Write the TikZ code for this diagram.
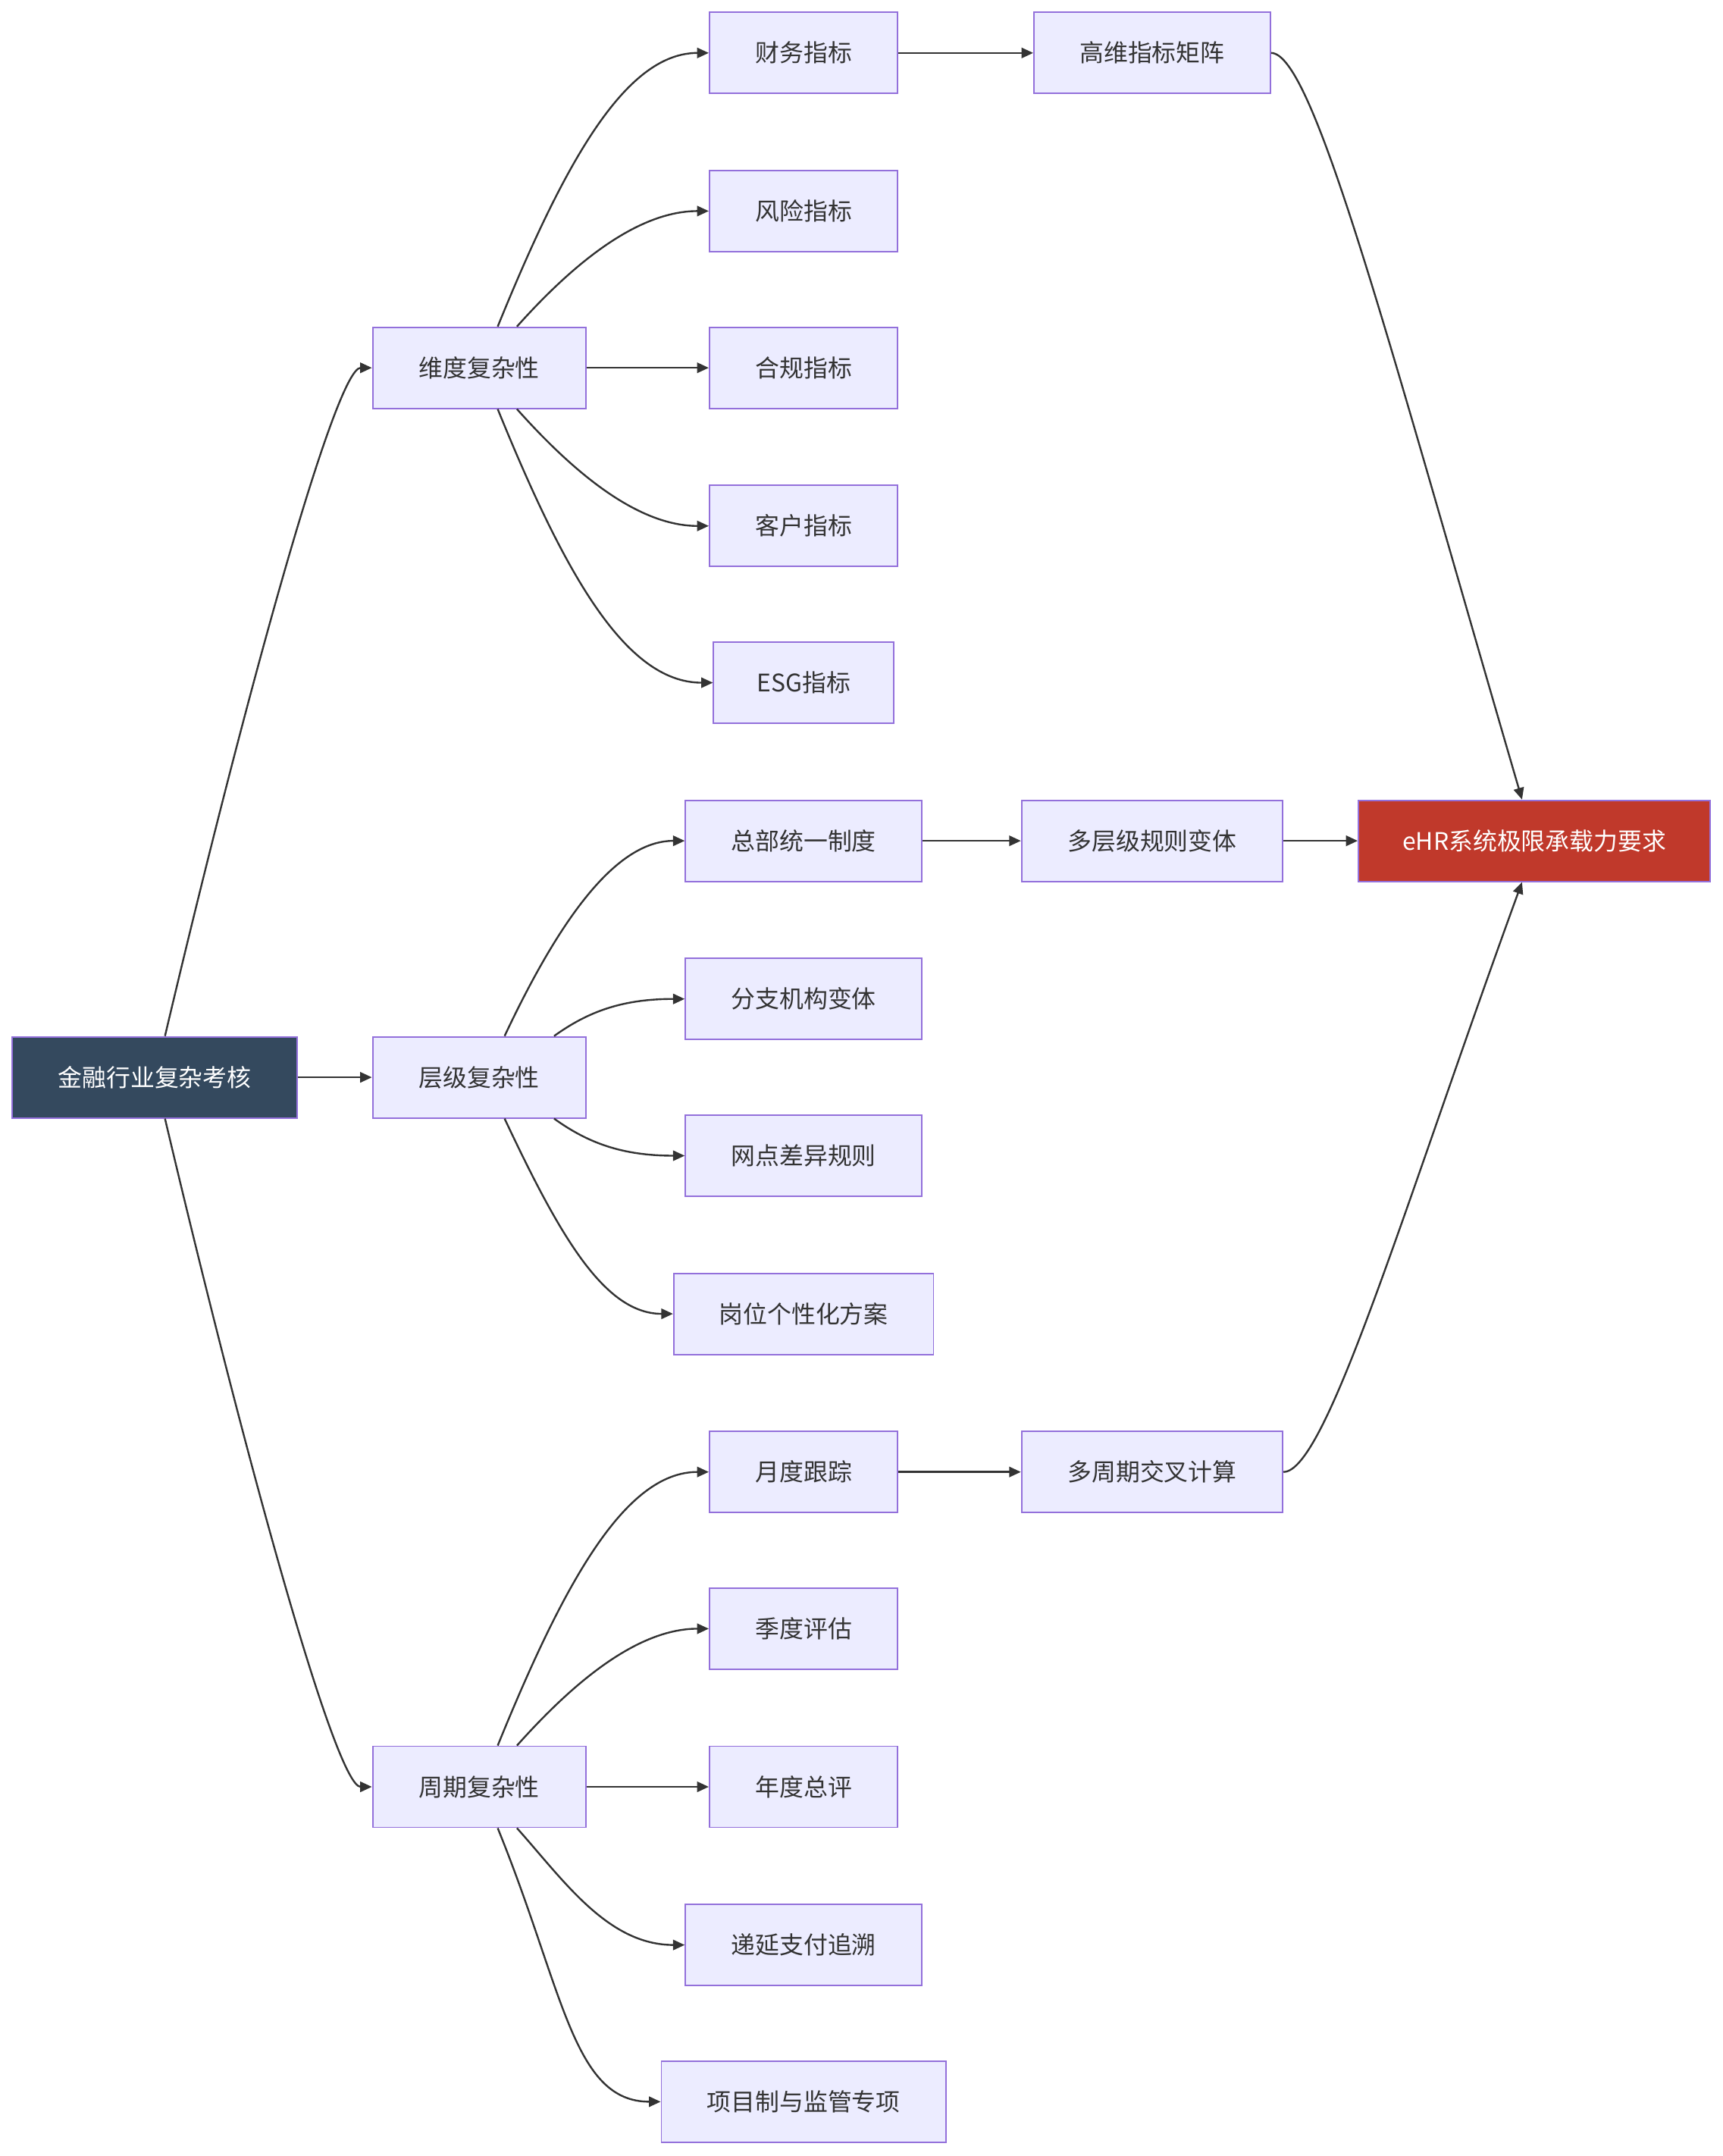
\documentclass[tikz,border=0pt]{standalone}
\usepackage{fontspec}
\setmainfont{Noto Sans CJK SC}
\usetikzlibrary{arrows.meta}
\definecolor{boxfill}{HTML}{ECECFF}
\definecolor{boxline}{HTML}{9370DB}
\definecolor{edgec}{HTML}{333333}
\definecolor{rootfill}{HTML}{34495E}
\definecolor{redfill}{HTML}{C0392B}
\tikzset{
  box/.style={draw=boxline, fill=boxfill, line width=0.6pt, minimum height=1.18cm,
    inner sep=0pt, text=edgec, font=\fontsize{10}{12}\selectfont},
  rootbox/.style={box, fill=rootfill, text=white},
  redbox/.style={box, fill=redfill, text=white},
  edge/.style={draw=edgec, line width=0.75pt, -{Triangle[length=0.17cm,width=0.15cm]}}
}
\begin{document}
\begin{tikzpicture}[x=0.02cm,y=-0.02cm]
\fill[white] (0,0) rectangle (1253,1568);
\useasboundingbox (0,0) rectangle (1253,1568);
% column 1
\node[rootbox, minimum width=4.14cm] (root) at (112.5,783.5) {金融行业复杂考核};
% column 2
\node[box, minimum width=3.1cm] (dim) at (348.5,267.5) {维度复杂性};
\node[box, minimum width=3.1cm] (lvl) at (348.5,783.5) {层级复杂性};
\node[box, minimum width=3.1cm] (cyc) at (348.5,1299.5) {周期复杂性};
% column 3
\node[box, minimum width=2.74cm] (fin) at (584.5,38.5) {财务指标};
\node[box, minimum width=2.74cm] (risk) at (584.5,153.5) {风险指标};
\node[box, minimum width=2.74cm] (comp) at (584.5,267.5) {合规指标};
\node[box, minimum width=2.74cm] (cust) at (584.5,382.5) {客户指标};
\node[box, minimum width=2.62cm] (esg) at (584.5,496.5) {ESG指标};
\node[box, minimum width=3.44cm] (hq) at (584.5,611.5) {总部统一制度};
\node[box, minimum width=3.44cm] (br) at (584.5,726.5) {分支机构变体};
\node[box, minimum width=3.44cm] (net) at (584.5,840.5) {网点差异规则};
\node[box, minimum width=3.78cm] (post) at (584.5,955.5) {岗位个性化方案};
\node[box, minimum width=2.74cm] (mon) at (584.5,1070.5) {月度跟踪};
\node[box, minimum width=2.74cm] (qtr) at (584.5,1184.5) {季度评估};
\node[box, minimum width=2.74cm] (yr) at (584.5,1299.5) {年度总评};
\node[box, minimum width=3.44cm] (def) at (584.5,1414.5) {递延支付追溯};
\node[box, minimum width=4.14cm] (proj) at (584.5,1528.5) {项目制与监管专项};
% column 4
\node[box, minimum width=3.44cm] (mat) at (838,38.5) {高维指标矩阵};
\node[box, minimum width=3.8cm] (rule) at (838,611.5) {多层级规则变体};
\node[box, minimum width=3.8cm] (cross) at (838,1070.5) {多周期交叉计算};
% column 5
\node[redbox, minimum width=5.12cm] (ehr) at (1116,611.5) {eHR系统极限承载力要求};

% root edges
\draw[edge] ([xshift=0.15cm]root.north) .. controls +(60,-254) and +(-26,0) .. (dim.west);
\draw[edge] (root.east) -- (lvl.west);
\draw[edge] ([xshift=0.15cm]root.south) .. controls +(60,254) and +(-26,0) .. (cyc.west);

% dimension edges
\draw[edge] ([xshift=0.27cm]dim.north) .. controls +(48,-118) and +(-61,0) .. (fin.west);
\draw[edge] ([xshift=0.55cm]dim.north) .. controls +(34,-38) and +(-56,0) .. (risk.west);
\draw[edge] (dim.east) -- (comp.west);
\draw[edge] ([xshift=0.55cm]dim.south) .. controls +(34,38) and +(-56,0) .. (cust.west);
\draw[edge] ([xshift=0.27cm]dim.south) .. controls +(48,118) and +(-64,0) .. (esg.west);

% level edges
\draw[edge] ([xshift=0.37cm]lvl.north) .. controls +(40,-85) and +(-50,0) .. (hq.west);
\draw[edge] ([xshift=1.09cm]lvl.north) .. controls +(25,-18) and +(-45,0) .. (br.west);
\draw[edge] ([xshift=1.09cm]lvl.south) .. controls +(25,18) and +(-45,0) .. (net.west);
\draw[edge] ([xshift=0.37cm]lvl.south) .. controls +(40,85) and +(-50,0) .. (post.west);

% cycle edges
\draw[edge] ([xshift=0.27cm]cyc.north) .. controls +(48,-118) and +(-61,0) .. (mon.west);
\draw[edge] ([xshift=0.55cm]cyc.north) .. controls +(34,-38) and +(-56,0) .. (qtr.west);
\draw[edge] (cyc.east) -- (yr.west);
\draw[edge] ([xshift=0.55cm]cyc.south) .. controls +(34,38) and +(-56,0) .. (def.west);
\draw[edge] ([xshift=0.27cm]cyc.south) .. controls +(48,118) and +(-64,0) .. (proj.west);

% to column 4
\draw[edge] (fin.east) -- (mat.west);
\draw[edge] (hq.east) -- (rule.west);
\draw[edge] (mon.east) -- (cross.west);

% to eHR
\draw[edge] (mat.east) .. controls +(31,0) and +(-97,-332) .. ([xshift=-0.18cm]ehr.north);
\draw[edge] (rule.east) -- (ehr.west);
\draw[edge] (cross.east) .. controls +(31,0) and +(-87,239) .. ([xshift=-0.18cm]ehr.south);
\end{tikzpicture}
\end{document}
